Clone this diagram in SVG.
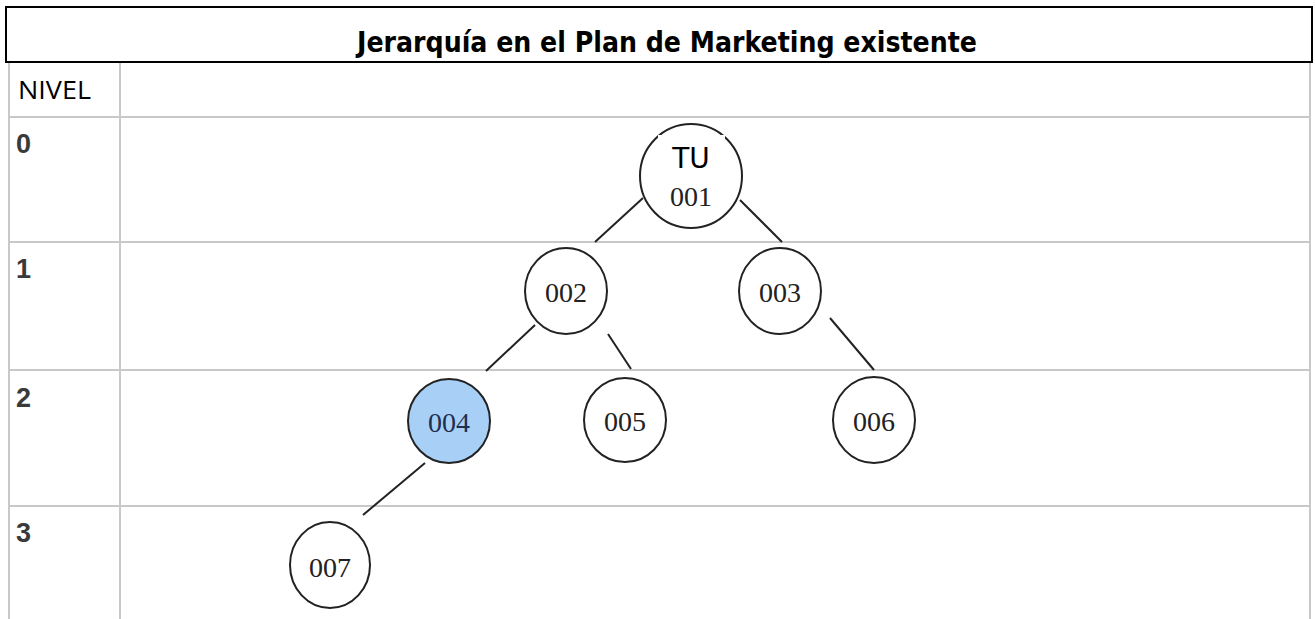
<svg xmlns="http://www.w3.org/2000/svg" width="1315" height="619" viewBox="0 0 1315 619">
<style>
.grid{stroke:#c8c8c8;stroke-width:2;fill:none}
.node{fill:#ffffff;stroke:#222;stroke-width:2}
.sel{fill:#a8d0f7}
.edge{stroke:#222;stroke-width:2}
.num{font-family:"Liberation Serif",serif;font-size:28px;fill:#222;text-anchor:middle}
.lvl{font-family:"Liberation Sans",Arial,sans-serif;font-weight:bold;font-size:27px;fill:#3a3a3a}
</style>
<rect width="1315" height="619" fill="#ffffff"/>
<g id="grid">
<line class="grid" x1="9" y1="63" x2="9" y2="619"/>
<line class="grid" x1="120" y1="63" x2="120" y2="619"/>
<line class="grid" x1="1310" y1="63" x2="1310" y2="619"/>
<line class="grid" x1="9" y1="117" x2="1310" y2="117"/>
<line class="grid" x1="9" y1="242" x2="1310" y2="242"/>
<line class="grid" x1="9" y1="370" x2="1310" y2="370"/>
<line class="grid" x1="9" y1="506" x2="1310" y2="506"/>
</g>
<g id="title">
<rect x="6" y="7" width="1306" height="55" fill="#ffffff" stroke="#000" stroke-width="2"/>
<text x="667" y="52" text-anchor="middle" font-family="DejaVu Sans Condensed, DejaVu Sans, sans-serif" font-weight="bold" font-size="29" textLength="620" lengthAdjust="spacingAndGlyphs" fill="#000">Jerarquía en el Plan de Marketing existente</text>
</g>
<g id="levels">
<text x="18" y="99" font-family="Open Sans, sans-serif" font-size="26" textLength="73" lengthAdjust="spacingAndGlyphs" fill="#000">NIVEL</text>
<text class="lvl" x="16" y="153">0</text>
<text class="lvl" x="16" y="278">1</text>
<text class="lvl" x="16" y="407">2</text>
<text class="lvl" x="16" y="542">3</text>
</g>
<g id="connectors">
<line class="edge" x1="643" y1="198" x2="595" y2="242"/>
<line class="edge" x1="740" y1="200" x2="782" y2="242"/>
<line class="edge" x1="535" y1="325" x2="486" y2="371"/>
<line class="edge" x1="608" y1="334" x2="631" y2="369"/>
<line class="edge" x1="830" y1="318" x2="874" y2="370"/>
<line class="edge" x1="425" y1="463" x2="363" y2="515"/>
</g>
<g id="n001">
<ellipse class="node" cx="691" cy="176" rx="51" ry="52"/>
<rect x="658" y="135" width="67" height="35" fill="#ffffff"/>
<text x="691" y="168" text-anchor="middle" font-family="DejaVu Sans, sans-serif" font-size="28" fill="#000">TU</text>
<text class="num" x="691" y="206">001</text>
</g>
<g id="n002">
<ellipse class="node" cx="566" cy="291" rx="41" ry="43"/>
<text class="num" x="566" y="302">002</text>
</g>
<g id="n003">
<ellipse class="node" cx="780" cy="291" rx="41" ry="43"/>
<text class="num" x="780" y="302">003</text>
</g>
<g id="n004">
<ellipse class="node sel" cx="449" cy="421" rx="41" ry="42"/>
<text class="num" x="449" y="432" style="fill:#1f2f4f">004</text>
</g>
<g id="n005">
<ellipse class="node" cx="625" cy="420" rx="41" ry="42"/>
<text class="num" x="625" y="431">005</text>
</g>
<g id="n006">
<ellipse class="node" cx="874" cy="420" rx="41" ry="43"/>
<text class="num" x="874" y="431">006</text>
</g>
<g id="n007">
<ellipse class="node" cx="330" cy="565" rx="40" ry="43"/>
<text class="num" x="330" y="577">007</text>
</g>
</svg>
